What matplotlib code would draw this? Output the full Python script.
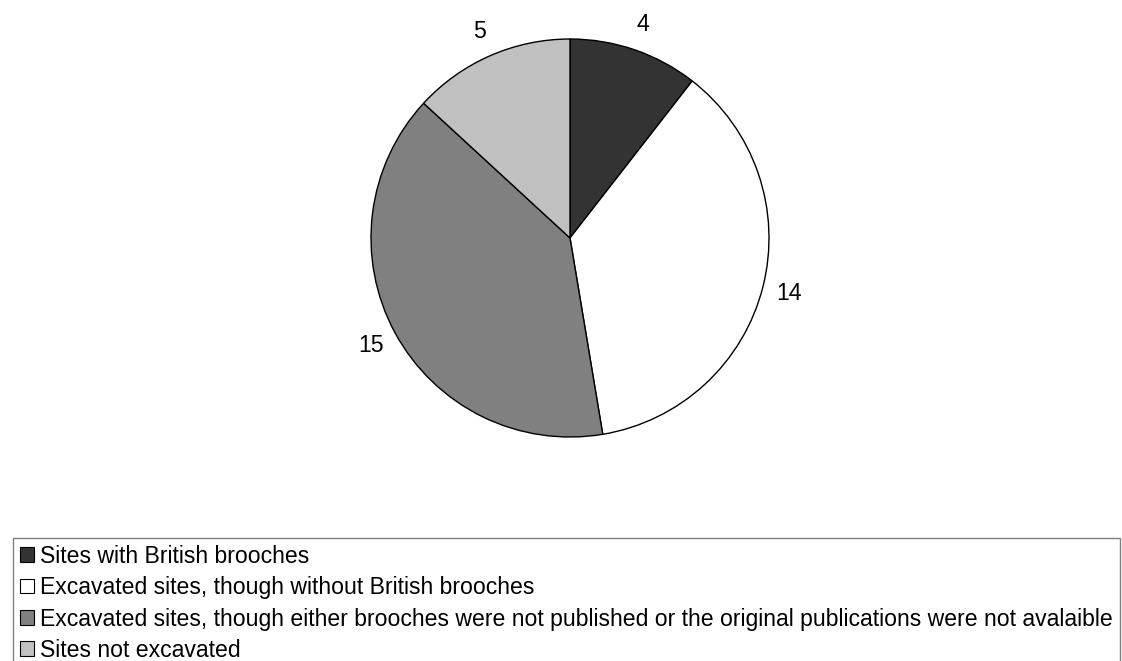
import matplotlib
matplotlib.use("Agg")
import matplotlib.pyplot as plt

plt.rcParams["font.family"] = ["Liberation Sans", "DejaVu Sans"]
plt.rcParams["font.size"] = 16.6

# data
categories = [
    "Sites with British brooches",
    "Excavated sites, though without British brooches",
    "Excavated sites, though either brooches were not published or the original publications were not avalaible",
    "Sites not excavated",
]
counts = [4, 14, 15, 5]
colors = ["#333333", "#ffffff", "#808080", "#c0c0c0"]

W, H = 1122, 661
fig = plt.figure(figsize=(W / 100, H / 100), dpi=100)

# pie axes: centre (570, 238) px, radius 199 px
cx, cy, r = 570, 238, 199
ax = fig.add_axes([(cx - r) / W, (H - cy - r) / H, 2 * r / W, 2 * r / H])
wedges, texts = ax.pie(counts, labels=[str(c) for c in counts], colors=colors,
                       startangle=90, counterclock=False, labeldistance=1.135,
                       wedgeprops=dict(edgecolor="black", linewidth=1, clip_on=False),
                       textprops=dict(fontsize=16.6, color="black"))
for t in texts:
    t.set_ha("center")
    t.set_va("center")
ax.set_xlim(-1, 1)
ax.set_ylim(-1, 1)
ax.set_aspect("auto")
ax.axis("off")

leg = fig.legend(wedges, categories, loc="upper left",
                 bbox_to_anchor=(13 / W, 1 - 538 / H), frameon=True,
                 fancybox=False, edgecolor="#808080", framealpha=1,
                 handlelength=0.6, handleheight=0.6, handletextpad=0.27,
                 borderpad=0.3, labelspacing=0.36, borderaxespad=0)
leg.get_frame().set_linewidth(1)
for h in leg.legend_handles:
    h.set_edgecolor("black")
    h.set_linewidth(0.8)

fig.savefig("out.png", dpi=100)
